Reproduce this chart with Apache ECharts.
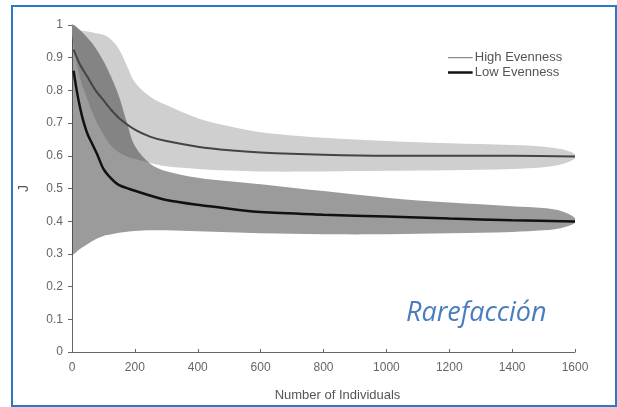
<!DOCTYPE html>
<html>
<head>
<meta charset="utf-8">
<script src="https://cdn.jsdelivr.net/npm/echarts@6/dist/echarts.min.js"></script>
<style>
  html, body { margin: 0; padding: 0; background: #fff; }
  #main { width: 617px; height: 407px; }
</style>
</head>
<body>
<div id="main"></div>
<script>
// x grid for the confidence bands
var bandX = [0, 25, 50, 75, 100, 125, 150, 175, 200, 250, 300, 400, 500, 600, 800, 1000, 1200, 1400, 1500, 1560, 1600];
var highUpper = [1.0, 0.985, 0.98, 0.975, 0.97, 0.955, 0.925, 0.875, 0.825, 0.78, 0.755, 0.715, 0.69, 0.672, 0.655, 0.645, 0.638, 0.633, 0.628, 0.62, 0.605];
var highLower = [0.97, 0.84, 0.77, 0.71, 0.665, 0.63, 0.61, 0.598, 0.59, 0.578, 0.568, 0.56, 0.555, 0.552, 0.552, 0.554, 0.556, 0.56, 0.565, 0.575, 0.592];
var lowUpper = [1.0, 0.985, 0.96, 0.93, 0.89, 0.84, 0.78, 0.70, 0.63, 0.575, 0.553, 0.533, 0.522, 0.513, 0.492, 0.472, 0.457, 0.446, 0.44, 0.43, 0.41];
var lowLower = [0.3, 0.315, 0.33, 0.345, 0.355, 0.36, 0.365, 0.368, 0.37, 0.372, 0.372, 0.369, 0.366, 0.363, 0.36, 0.36, 0.363, 0.367, 0.372, 0.38, 0.395];

// mean curves
var highX = [5, 25, 50, 75, 100, 125, 150, 200, 250, 300, 400, 500, 600, 800, 1000, 1200, 1400, 1600];
var highMean = [0.925, 0.88, 0.84, 0.8, 0.77, 0.74, 0.715, 0.68, 0.658, 0.645, 0.628, 0.617, 0.61, 0.603, 0.6, 0.6, 0.6, 0.598];
var lowX = [5, 15, 25, 35, 50, 65, 80, 100, 125, 150, 200, 250, 300, 400, 500, 600, 800, 1000, 1200, 1400, 1600];
var lowMean = [0.86, 0.8, 0.75, 0.71, 0.665, 0.635, 0.605, 0.56, 0.53, 0.51, 0.493, 0.478, 0.465, 0.45, 0.438, 0.428, 0.42, 0.414, 0.408, 0.403, 0.399];

var seriesNames = ['High Evenness', 'Low Evenness'];

function pairs(xs, ys) {
    return xs.map(function (x, i) { return [x, ys[i]]; });
}

// one polygon per band: upper edge left->right, lower edge back
function bandRenderer(upper, lower, fill, opacity) {
    return function (params, api) {
        if (params.dataIndex !== 0) return;
        var pts = [];
        bandX.forEach(function (x, i) { pts.push(api.coord([x, upper[i]])); });
        for (var i = bandX.length - 1; i >= 0; i--) pts.push(api.coord([bandX[i], lower[i]]));
        return {
            type: 'polygon',
            shape: { points: pts, smooth: 0.35 },
            style: { fill: fill, opacity: opacity }
        };
    };
}

var chart = echarts.init(document.getElementById('main'));

chart.setOption({
    animation: false,
    grid: { left: 72, right: 42, top: 25, bottom: 55 },
    legend: {
        data: [
            { name: seriesNames[0], icon: 'path://M0,0H0.1V0.1H0Z M0,3H25V4.2H0Z M0,7H0.1V7.1H0Z' },
            { name: seriesNames[1], icon: 'path://M0,0H0.1V0.1H0Z M0,2.3H25V4.8H0Z M0,7H0.1V7.1H0Z' }
        ],
        orient: 'vertical',
        left: 443,
        top: 46,
        itemWidth: 25,
        itemHeight: 7,
        itemGap: 2,
        textStyle: { fontSize: 13, color: '#555', fontFamily: 'Liberation Sans', padding: [0, 0, 0, -3] }
    },
    xAxis: {
        type: 'value',
        min: 0,
        max: 1600,
        interval: 200,
        name: 'Number of Individuals',
        nameLocation: 'middle',
        nameGap: 37,
        nameTextStyle: { fontSize: 13, color: '#555', fontFamily: 'Liberation Sans', padding: [0, 0, 0, 28] },
        axisLine: { lineStyle: { color: '#666' } },
        axisTick: { inside: true, length: 3, lineStyle: { color: '#666' } },
        axisLabel: {
            fontSize: 12, color: '#666', margin: 10, fontFamily: 'Liberation Sans',
            formatter: function (v) { return String(v); }
        },
        splitLine: { show: false }
    },
    yAxis: {
        type: 'value',
        min: 0,
        max: 1,
        interval: 0.1,
        name: 'J',
        nameLocation: 'middle',
        nameGap: 41,
        nameTextStyle: { fontSize: 14, color: '#555', fontFamily: 'Liberation Sans' },
        axisLine: { show: true, lineStyle: { color: '#666' } },
        axisTick: { show: true, length: 4, lineStyle: { color: '#666' } },
        axisLabel: { fontSize: 12, color: '#666', margin: 9, fontFamily: 'Liberation Sans' },
        splitLine: { show: false }
    },
    graphic: [
        {
            type: 'rect',
            z: 100,
            shape: { x: 12, y: 6, width: 604, height: 400 },
            style: { fill: 'none', stroke: '#2b78c6', lineWidth: 2 },
            silent: true
        },
        {
            type: 'text',
            z: 100,
            left: 406,
            top: 300,
            style: {
                text: 'Rarefacción',
                font: 'italic 27px "Open Sans"',
                fill: '#4a7dbd'
            },
            silent: true
        }
    ],
    series: [
        {
            name: 'highBand',
            type: 'custom',
            z: 1,
            silent: true,
            clip: true,
            renderItem: bandRenderer(highUpper, highLower, '#cfcfcf', 1),
            data: pairs(bandX, highUpper)
        },
        {
            name: 'lowBand',
            type: 'custom',
            z: 2,
            silent: true,
            clip: true,
            renderItem: bandRenderer(lowUpper, lowLower, '#404040', 0.52),
            data: pairs(bandX, lowUpper)
        },
        {
            name: seriesNames[0],
            type: 'line',
            symbol: 'none',
            smooth: 0.3,
            z: 3,
            color: '#8a8a8a',
            lineStyle: { color: '#444', width: 2 },
            data: pairs(highX, highMean)
        },
        {
            name: seriesNames[1],
            type: 'line',
            symbol: 'none',
            smooth: 0.3,
            z: 4,
            color: '#111',
            lineStyle: { color: '#111', width: 2.5 },
            data: pairs(lowX, lowMean)
        }
    ]
});
</script>
</body>
</html>
